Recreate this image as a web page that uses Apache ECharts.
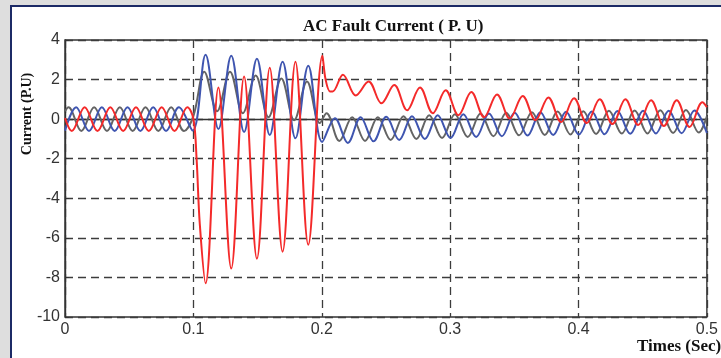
<!DOCTYPE html>
<html>
<head>
<meta charset="utf-8">
<script src="https://cdn.jsdelivr.net/npm/echarts@6/dist/echarts.min.js"></script>
<style>
  html, body { margin: 0; padding: 0; background: #dedede; }
  #chart { width: 721px; height: 358px; }
</style>
</head>
<body>
<div id="chart"></div>
<script>
// phase currents, [time (s), current (p.u.)] at peaks / troughs
var redPhase = [
  [0, 0.05], [0.0053, -0.6], [0.0153, 0.6], [0.0253, -0.6], [0.0353, 0.6], [0.0453, -0.6],
  [0.0553, 0.6], [0.0653, -0.6], [0.0753, 0.6], [0.0853, -0.6], [0.0953, 0.6],
  [0.1, 0.02], [0.1025, -2.0], [0.105, -5.3], [0.1095, -8.3], [0.1195, 1.6], [0.1295, -7.55],
  [0.1395, 2.15], [0.1495, -7.05], [0.1595, 2.6], [0.1695, -6.7], [0.1795, 2.9], [0.1895, -6.35],
  [0.2005, 3.2], [0.203, 2.0], [0.2065, 1.4], [0.2085, 1.4], [0.2165, 2.25], [0.2265, 1.2],
  [0.2365, 1.9], [0.2465, 0.8], [0.2565, 1.72], [0.2665, 0.45], [0.2765, 1.6], [0.2865, 0.3],
  [0.2965, 1.46], [0.3065, 0.2], [0.3165, 1.37], [0.3265, 0.1], [0.3365, 1.25], [0.3465, 0.03],
  [0.3565, 1.17], [0.3665, -0.05], [0.3765, 1.1], [0.3865, -0.15], [0.3965, 1.05], [0.4065, -0.2],
  [0.4165, 1.0], [0.4265, -0.25], [0.4365, 1.0], [0.4465, -0.3], [0.4565, 0.95], [0.4665, -0.35],
  [0.4765, 0.95], [0.4865, -0.4], [0.4965, 0.85], [0.5, 0.6]
];
var grayPhase = [
  [0, 0.4], [0.0027, 0.6], [0.0127, -0.6], [0.0227, 0.6], [0.0327, -0.6], [0.0427, 0.6],
  [0.0527, -0.6], [0.0627, 0.6], [0.0727, -0.6], [0.0827, 0.6], [0.0927, -0.6],
  [0.1, 0.15], [0.1085, 2.4], [0.1185, 0.4], [0.1285, 2.4], [0.1385, 0.3], [0.1485, 2.2],
  [0.1585, 0.1], [0.1685, 2.05], [0.1785, -0.05], [0.1885, 1.9], [0.1985, -0.2],
  [0.2037, 0.3], [0.2137, -1.1], [0.2237, 0.1], [0.2337, -1.1], [0.2437, 0.1], [0.2537, -1.05],
  [0.2637, 0.15], [0.2737, -1.0], [0.2837, 0.2], [0.2937, -0.95], [0.3037, 0.25], [0.3137, -0.9],
  [0.3237, 0.28], [0.3337, -0.86], [0.3437, 0.32], [0.3537, -0.82], [0.3637, 0.35], [0.3737, -0.8],
  [0.3837, 0.38], [0.3937, -0.77], [0.4037, 0.4], [0.4137, -0.75], [0.4237, 0.42], [0.4337, -0.73],
  [0.4437, 0.44], [0.4537, -0.72], [0.4637, 0.45], [0.4737, -0.7], [0.4837, 0.46], [0.4937, -0.68],
  [0.5, 0.15]
];
var bluePhase = [
  [0, -0.58], [0.0087, 0.6], [0.0187, -0.6], [0.0287, 0.6], [0.0387, -0.6], [0.0487, 0.6],
  [0.0587, -0.6], [0.0687, 0.6], [0.0787, -0.6], [0.0887, 0.6], [0.0995, -0.58],
  [0.1095, 3.25], [0.1195, -0.5], [0.1295, 3.2], [0.1395, -0.65], [0.1495, 3.05], [0.1595, -0.8],
  [0.1695, 2.9], [0.1795, -0.97], [0.1895, 2.7], [0.2003, -1.15], [0.2103, 0.05], [0.2203, -1.2],
  [0.2303, 0.1], [0.2403, -1.12], [0.2503, 0.12], [0.2603, -1.05], [0.2703, 0.15], [0.2803, -1.0],
  [0.2903, 0.2], [0.3003, -0.95], [0.3103, 0.25], [0.3203, -0.9], [0.3303, 0.28], [0.3403, -0.86],
  [0.3503, 0.32], [0.3603, -0.83], [0.3703, 0.35], [0.3803, -0.8], [0.3903, 0.37], [0.4003, -0.78],
  [0.4103, 0.39], [0.4203, -0.76], [0.4303, 0.41], [0.4403, -0.74], [0.4503, 0.42], [0.4603, -0.72],
  [0.4703, 0.43], [0.4803, -0.71], [0.4903, 0.44], [0.5, -0.7]
];

var myChart = echarts.init(document.getElementById('chart'), null, { renderer: 'canvas' });

var gridLine = { show: true, lineStyle: { color: '#3c3c3c', type: [8, 5], width: 1.3 } };
var labelStyle = { color: '#333', fontFamily: 'Liberation Sans', fontSize: 16 };

function phase(name, data, color) {
  return {
    name: name,
    type: 'line',
    data: data,
    showSymbol: false,
    smooth: 0.36,
    lineStyle: { color: color, width: 2 },
    emphasis: { disabled: true }
  };
}

var option = {
  animation: false,
  backgroundColor: '#dedede',
  title: {
    text: 'AC Fault Current ( P. U)',
    left: 298,
    top: 13,
    textStyle: { fontFamily: 'Liberation Serif', fontWeight: 'bold', fontSize: 17, color: '#111' }
  },
  graphic: [
    {
      type: 'rect', z: -10, silent: true,
      shape: { x: 11, y: 6, width: 760, height: 400 },
      style: { fill: '#fff', stroke: '#1c2a66', lineWidth: 2 }
    },
    {
      type: 'text', x: 27, y: 114, rotation: Math.PI / 2,
      style: {
        text: 'Current (P.U)', align: 'center', verticalAlign: 'middle',
        font: 'bold 14px "Liberation Serif"', fill: '#111'
      }
    },
    {
      type: 'text', x: 637, y: 347,
      style: {
        text: 'Times (Sec)', align: 'left', verticalAlign: 'middle',
        font: 'bold 17px "Liberation Serif"', fill: '#111'
      }
    }
  ],
  grid: {
    left: 65, right: 11, top: 40, bottom: 41,
    show: true, borderColor: '#333', borderWidth: 1.4, backgroundColor: 'transparent'
  },
  xAxis: {
    type: 'value', min: 0, max: 0.5, interval: 0.1,
    axisLine: { show: true, lineStyle: { color: '#333', width: 1.4 } },
    axisTick: { show: true, inside: true, length: 4, lineStyle: { color: '#333' } },
    axisLabel: Object.assign({ margin: 5 }, labelStyle),
    splitLine: gridLine
  },
  yAxis: {
    type: 'value', min: -10, max: 4, interval: 2,
    axisLine: { show: true, lineStyle: { color: '#333', width: 1.4 } },
    axisTick: { show: true, inside: true, length: 4, lineStyle: { color: '#333' } },
    axisLabel: Object.assign({ margin: 5 }, labelStyle),
    splitLine: gridLine
  },
  series: [
    phase('Phase B', grayPhase, '#646464'),
    phase('Phase C', bluePhase, '#3f55b0'),
    phase('Phase A', redPhase, '#f42a2a')
  ]
};

myChart.setOption(option);
</script>
</body>
</html>
